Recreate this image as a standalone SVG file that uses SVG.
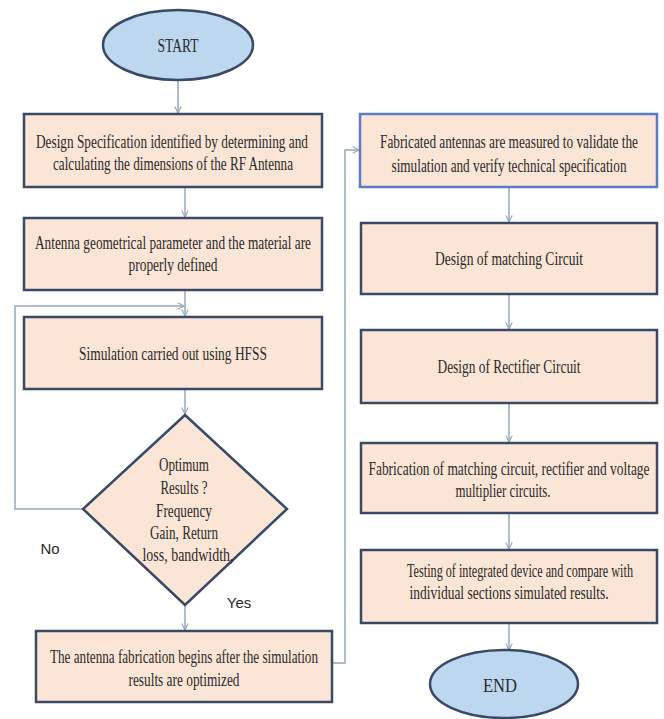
<svg xmlns="http://www.w3.org/2000/svg" width="664" height="719" viewBox="0 0 664 719">
<defs>
<style>
.box{fill:#FBE5D6;stroke:#3A4A66;stroke-width:2.5}
.box5{fill:#FBE5D6;stroke:#5B7BC4;stroke-width:2.5}
.term{fill:#BDD7EE;stroke:#3A4A66;stroke-width:2.5}
.t{font-family:"Liberation Serif","Times New Roman",serif;font-size:18px;fill:#2b2b2b;text-anchor:middle;dominant-baseline:central}
.lbl{font-family:"Liberation Sans",Arial,sans-serif;font-size:15px;fill:#2b2b2b;text-anchor:middle;dominant-baseline:central}
.c{fill:none;stroke:#98A8C0;stroke-width:1.5}
</style>
<marker id="ah" viewBox="0 0 10 10" refX="9" refY="5" markerWidth="8" markerHeight="8" orient="auto" markerUnits="userSpaceOnUse">
<path d="M1,1 L9,5 L1,9" fill="none" stroke="#98A8C0" stroke-width="1.5"/>
</marker>
</defs>
<rect width="664" height="719" fill="#FFFFFF"/>
<g id="connectors">
<path class="c" d="M178,80 L178,113" marker-end="url(#ah)"/>
<path class="c" d="M185,187 L185,217" marker-end="url(#ah)"/>
<path class="c" d="M185,290 L185,316" marker-end="url(#ah)"/>
<path class="c" d="M83,509 L15,509 L15,306 L184,306" marker-end="url(#ah)"/>
<path class="c" d="M185,389 L185,414" marker-end="url(#ah)"/>
<path class="c" d="M185,605 L185,630" marker-end="url(#ah)"/>
<path class="c" d="M332,663 L345,663 L345,150 L359,150" marker-end="url(#ah)"/>
<path class="c" d="M509,187 L509,222" marker-end="url(#ah)"/>
<path class="c" d="M509,294 L509,329" marker-end="url(#ah)"/>
<path class="c" d="M509,403 L509,442" marker-end="url(#ah)"/>
<path class="c" d="M509,513 L509,549" marker-end="url(#ah)"/>
<path class="c" d="M509,623 L509,650" marker-end="url(#ah)"/>
<text class="lbl" x="50" y="548">No</text>
<text class="lbl" x="239" y="602">Yes</text>
</g>
<g id="start">
<ellipse class="term" cx="178" cy="45" rx="75" ry="35"/>
<text class="t" x="178" y="46" textLength="41" lengthAdjust="spacingAndGlyphs">START</text>
</g>
<g id="box1">
<rect class="box" x="24" y="114" width="298" height="73"/>
<text class="t" x="172" y="142" textLength="272" lengthAdjust="spacingAndGlyphs">Design Specification identified by determining and</text>
<text class="t" x="173" y="164" textLength="240" lengthAdjust="spacingAndGlyphs">calculating the dimensions of the RF Antenna</text>
</g>
<g id="box2">
<rect class="box" x="24" y="218" width="298" height="72"/>
<text class="t" x="173" y="243" textLength="276" lengthAdjust="spacingAndGlyphs">Antenna geometrical parameter and the material are</text>
<text class="t" x="173" y="265" textLength="89" lengthAdjust="spacingAndGlyphs">properly defined</text>
</g>
<g id="box3">
<rect class="box" x="24" y="317" width="298" height="72"/>
<text class="t" x="173" y="354" textLength="188" lengthAdjust="spacingAndGlyphs">Simulation carried out using HFSS</text>
</g>
<g id="decision">
<polygon class="box" points="185,415 287,509 185,605 83,509"/>
<text class="t" x="184" y="465" textLength="50" lengthAdjust="spacingAndGlyphs">Optimum</text>
<text class="t" x="184" y="488" textLength="47" lengthAdjust="spacingAndGlyphs">Results ?</text>
<text class="t" x="184" y="511" textLength="56" lengthAdjust="spacingAndGlyphs">Frequency</text>
<text class="t" x="184" y="533" textLength="68" lengthAdjust="spacingAndGlyphs">Gain, Return</text>
<text class="t" x="188" y="555" textLength="91" lengthAdjust="spacingAndGlyphs">loss, bandwidth,</text>
</g>
<g id="box4">
<rect class="box" x="36" y="631" width="296" height="71"/>
<text class="t" x="184" y="657" textLength="268" lengthAdjust="spacingAndGlyphs">The antenna fabrication begins after the simulation</text>
<text class="t" x="184" y="680" textLength="111" lengthAdjust="spacingAndGlyphs">results are optimized</text>
</g>
<g id="box5">
<rect class="box5" x="360" y="114" width="297" height="73"/>
<text class="t" x="509" y="142" textLength="258" lengthAdjust="spacingAndGlyphs">Fabricated antennas are measured to validate the</text>
<text class="t" x="509" y="166" textLength="235" lengthAdjust="spacingAndGlyphs">simulation and verify technical specification</text>
</g>
<g id="box6">
<rect class="box" x="361" y="223" width="296" height="71"/>
<text class="t" x="509" y="259" textLength="148" lengthAdjust="spacingAndGlyphs">Design of matching Circuit</text>
</g>
<g id="box7">
<rect class="box" x="361" y="330" width="296" height="73"/>
<text class="t" x="509" y="367" textLength="143" lengthAdjust="spacingAndGlyphs">Design of Rectifier Circuit</text>
</g>
<g id="box8">
<rect class="box" x="361" y="443" width="296" height="70"/>
<text class="t" x="509" y="469" textLength="281" lengthAdjust="spacingAndGlyphs">Fabrication of matching circuit, rectifier and voltage</text>
<text class="t" x="503" y="491" textLength="95" lengthAdjust="spacingAndGlyphs">multiplier circuits.</text>
</g>
<g id="box9">
<rect class="box" x="361" y="550" width="296" height="73"/>
<text class="t" x="520" y="571" textLength="226" lengthAdjust="spacingAndGlyphs">Testing of integrated device and compare with</text>
<text class="t" x="509" y="593" textLength="199" lengthAdjust="spacingAndGlyphs">individual sections simulated results.</text>
</g>
<g id="end">
<ellipse class="term" cx="504" cy="684" rx="74" ry="34"/>
<text class="t" x="500" y="686" textLength="34" lengthAdjust="spacingAndGlyphs">END</text>
</g>
</svg>
